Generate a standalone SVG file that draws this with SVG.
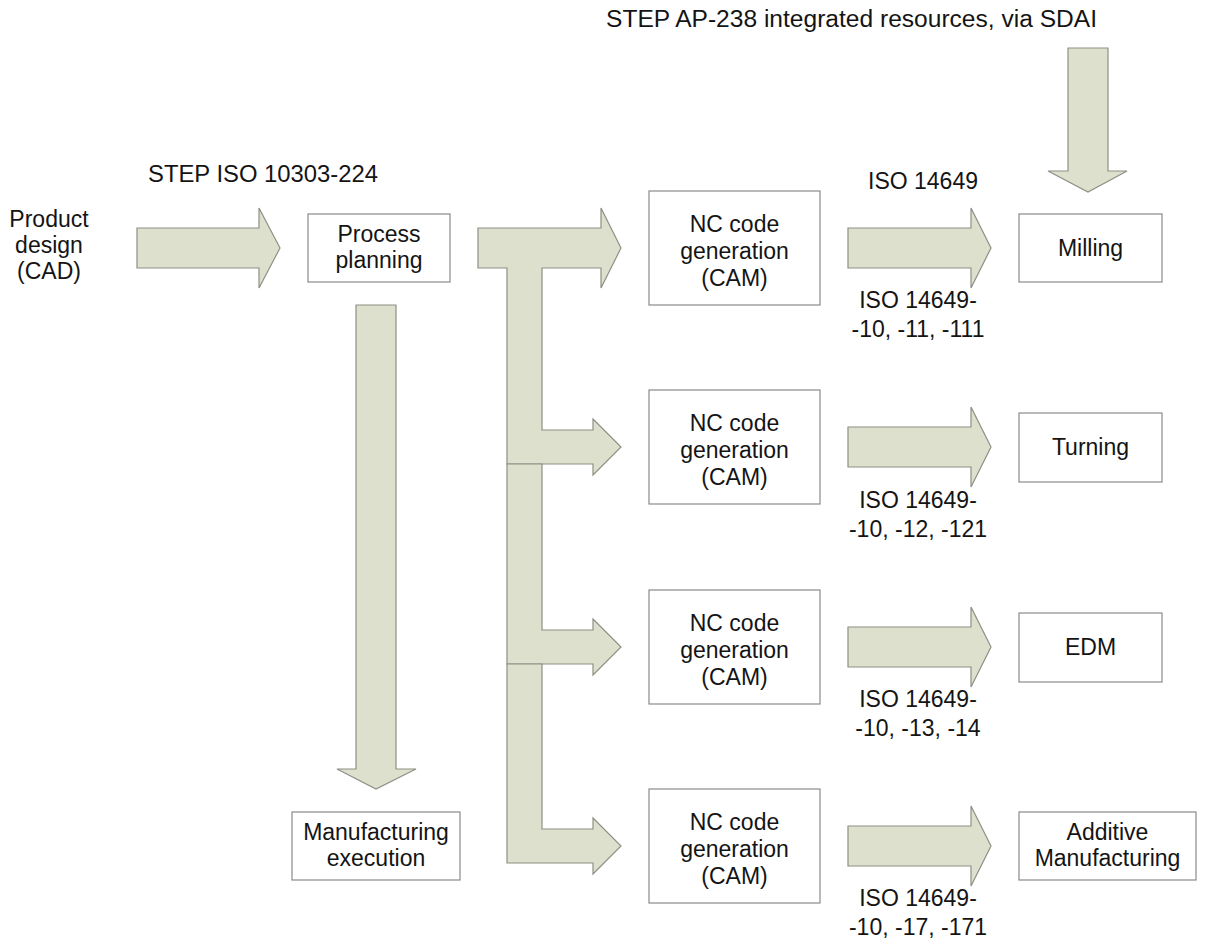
<svg xmlns="http://www.w3.org/2000/svg" width="1215" height="940" viewBox="0 0 1215 940">
<style>
.bg{fill:#ffffff}
.arr{fill:#dde0cc;stroke:#8f8f86;stroke-width:1.2;stroke-linejoin:miter}
.box{fill:#ffffff;stroke:#8a8a8a;stroke-width:1.2}
text{font-family:"Liberation Sans",Arial,sans-serif;font-size:23px;fill:#141414}
.m{text-anchor:middle}
</style>
<rect class="bg" x="0" y="0" width="1215" height="940"/>
<g id="labels">
<text x="606" y="27" textLength="491" lengthAdjust="spacingAndGlyphs">STEP AP-238 integrated resources, via SDAI</text>
<text x="148" y="182" textLength="230" lengthAdjust="spacingAndGlyphs">STEP ISO 10303-224</text>
<text class="m" x="923" y="189">ISO 14649</text>
<text class="m" x="918" y="308">ISO 14649-</text>
<text class="m" x="918" y="337">-10, -11, -111</text>
<text class="m" x="918" y="508">ISO 14649-</text>
<text class="m" x="918" y="537">-10, -12, -121</text>
<text class="m" x="918" y="707">ISO 14649-</text>
<text class="m" x="918" y="736">-10, -13, -14</text>
<text class="m" x="918" y="906">ISO 14649-</text>
<text class="m" x="918" y="935">-10, -17, -171</text>
</g>
<g id="connectors">
<path class="arr" d="M137,228 H259 V208 L280,248 L259,288 V268 H137 Z"/>
<path class="arr" d="M356,305 V769 H337 L376,789 L416,769 H396 V305 Z"/>
<path class="arr" d="M1068,48 H1108 V171 H1127 L1088,192 L1048,171 H1068 Z"/>
<path class="arr" d="M478,228 H601 V208 L621,248 L601,288 V268 H542 V430 H593 V419 L621,447 L593,475 V464 H507 V268 H478 Z"/>
<path class="arr" d="M507,464 H542 V630 H593 V619 L621,647 L593,675 V664 H507 Z"/>
<path class="arr" d="M507,664 H542 V829 H593 V818 L621,846 L593,874 V863 H507 Z"/>
<path class="arr" d="M848,228 H971 V208 L991,248 L971,288 V268 H848 Z"/>
<path class="arr" d="M848,427 H971 V407 L991,447 L971,487 V467 H848 Z"/>
<path class="arr" d="M848,627 H971 V607 L991,647 L971,687 V667 H848 Z"/>
<path class="arr" d="M848,826 H971 V806 L991,846 L971,886 V866 H848 Z"/>
</g>
<g id="product-design">
<text class="m" x="49" y="227">Product</text>
<text class="m" x="49" y="253">design</text>
<text class="m" x="49" y="279">(CAD)</text>
</g>
<g id="process-planning">
<rect class="box" x="308" y="214" width="142" height="68"/>
<text class="m" x="379" y="242">Process</text>
<text class="m" x="379" y="268">planning</text>
</g>
<g id="manufacturing-execution">
<rect class="box" x="292" y="812" width="168" height="68"/>
<text class="m" x="376" y="840">Manufacturing</text>
<text class="m" x="376" y="866">execution</text>
</g>
<g id="nc1">
<rect class="box" x="649" y="191" width="171" height="114"/>
<text class="m" x="734.5" y="232">NC code</text>
<text class="m" x="734.5" y="259">generation</text>
<text class="m" x="734.5" y="286">(CAM)</text>
</g>
<g id="nc2">
<rect class="box" x="649" y="390" width="171" height="114"/>
<text class="m" x="734.5" y="431">NC code</text>
<text class="m" x="734.5" y="458">generation</text>
<text class="m" x="734.5" y="485">(CAM)</text>
</g>
<g id="nc3">
<rect class="box" x="649" y="590" width="171" height="114"/>
<text class="m" x="734.5" y="631">NC code</text>
<text class="m" x="734.5" y="658">generation</text>
<text class="m" x="734.5" y="685">(CAM)</text>
</g>
<g id="nc4">
<rect class="box" x="649" y="789" width="171" height="114"/>
<text class="m" x="734.5" y="830">NC code</text>
<text class="m" x="734.5" y="857">generation</text>
<text class="m" x="734.5" y="884">(CAM)</text>
</g>
<g id="milling">
<rect class="box" x="1019" y="214" width="143" height="68"/>
<text class="m" x="1090.5" y="256">Milling</text>
</g>
<g id="turning">
<rect class="box" x="1019" y="413" width="143" height="69"/>
<text class="m" x="1090.5" y="455">Turning</text>
</g>
<g id="edm">
<rect class="box" x="1019" y="613" width="143" height="69"/>
<text class="m" x="1090.5" y="655">EDM</text>
</g>
<g id="additive">
<rect class="box" x="1019" y="812" width="177" height="68"/>
<text class="m" x="1107.5" y="840">Additive</text>
<text class="m" x="1107.5" y="866">Manufacturing</text>
</g>
</svg>
